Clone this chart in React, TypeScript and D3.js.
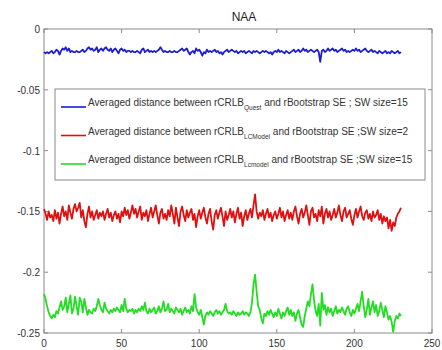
import React, { useEffect, useRef } from 'react';
import * as d3 from 'd3';

const title = 'NAA';
const xTicks = [0, 50, 100, 150, 200, 250];
const yTicks = [0, -0.05, -0.1, -0.15, -0.2, -0.25];
const yTickLabels = ['0', '-0.05', '-0.1', '-0.15', '-0.2', '-0.25'];

const blueValues = [
  -0.019, -0.020, -0.019, -0.020, -0.019, -0.018, -0.020, -0.019, -0.017, -0.018, -0.021, -0.018, -0.016, -0.017, -0.015, -0.018, -0.016, -0.019, -0.018, -0.019,
  -0.019, -0.018, -0.019, -0.019, -0.018, -0.017, -0.019, -0.018, -0.016, -0.015, -0.017, -0.016, -0.018, -0.017, -0.015, -0.019, -0.017, -0.016, -0.018, -0.016,
  -0.015, -0.017, -0.018, -0.016, -0.019, -0.017, -0.016, -0.018, -0.020, -0.017, -0.016, -0.018, -0.017, -0.019, -0.018, -0.018, -0.019, -0.018, -0.019, -0.019,
  -0.018, -0.019, -0.020, -0.017, -0.016, -0.019, -0.018, -0.017, -0.019, -0.018, -0.019, -0.018, -0.019, -0.018, -0.017, -0.015, -0.017, -0.019, -0.018, -0.019,
  -0.019, -0.018, -0.019, -0.019, -0.018, -0.019, -0.019, -0.018, -0.017, -0.016, -0.018, -0.017, -0.016, -0.019, -0.021, -0.019, -0.018, -0.020, -0.016, -0.018,
  -0.017, -0.019, -0.022, -0.019, -0.020, -0.017, -0.019, -0.018, -0.019, -0.018, -0.017, -0.019, -0.018, -0.020, -0.019, -0.021, -0.019, -0.018, -0.017, -0.019,
  -0.018, -0.017, -0.018, -0.019, -0.018, -0.020, -0.019, -0.018, -0.019, -0.018, -0.020, -0.019, -0.018, -0.019, -0.020, -0.018, -0.019, -0.018, -0.019, -0.020,
  -0.019, -0.018, -0.019, -0.018, -0.019, -0.020, -0.019, -0.021, -0.019, -0.018, -0.019, -0.017, -0.019, -0.018, -0.019, -0.020, -0.018, -0.019, -0.020, -0.019,
  -0.018, -0.017, -0.019, -0.018, -0.017, -0.019, -0.018, -0.016, -0.018, -0.017, -0.019, -0.018, -0.017, -0.018, -0.019, -0.018, -0.017, -0.019, -0.027, -0.018,
  -0.017, -0.019, -0.018, -0.016, -0.018, -0.017, -0.016, -0.018, -0.017, -0.019, -0.018, -0.017, -0.016, -0.018, -0.017, -0.019, -0.018, -0.019, -0.018, -0.017,
  -0.018, -0.016, -0.018, -0.017, -0.019, -0.018, -0.017, -0.016, -0.018, -0.019, -0.018, -0.017, -0.019, -0.018, -0.019, -0.020, -0.018, -0.019, -0.020, -0.019,
  -0.018, -0.020, -0.019, -0.020, -0.018, -0.019, -0.020, -0.019, -0.018, -0.020, -0.019,
];

const redValues = [
  -0.148, -0.152, -0.157, -0.150, -0.155, -0.153, -0.158, -0.149, -0.156, -0.151, -0.160, -0.152, -0.146, -0.154, -0.150, -0.157, -0.145, -0.151, -0.156, -0.148,
  -0.144, -0.150, -0.147, -0.143, -0.155, -0.149, -0.158, -0.163, -0.152, -0.146, -0.155, -0.150, -0.157, -0.153, -0.149, -0.156, -0.151, -0.154, -0.150, -0.157,
  -0.152, -0.148, -0.155, -0.151, -0.158, -0.153, -0.150, -0.156, -0.152, -0.159, -0.150, -0.154, -0.147, -0.153, -0.149, -0.156, -0.151, -0.145, -0.152, -0.148,
  -0.155, -0.150, -0.146, -0.157, -0.151, -0.154, -0.149, -0.158, -0.152, -0.147, -0.155, -0.150, -0.145, -0.153, -0.160, -0.151, -0.148, -0.156, -0.152, -0.157,
  -0.149, -0.154, -0.145, -0.152, -0.160, -0.147, -0.155, -0.162, -0.150, -0.146, -0.153, -0.158, -0.149, -0.155, -0.151, -0.148, -0.157, -0.152, -0.163, -0.154,
  -0.149, -0.156, -0.151, -0.147, -0.155, -0.160, -0.152, -0.148, -0.158, -0.165, -0.153, -0.149, -0.156, -0.151, -0.147, -0.154, -0.162, -0.150, -0.157, -0.153,
  -0.148, -0.155, -0.150, -0.159, -0.152, -0.147, -0.156, -0.151, -0.162, -0.154, -0.149, -0.157, -0.152, -0.148, -0.155, -0.145, -0.136, -0.150, -0.156, -0.151,
  -0.154, -0.149, -0.157, -0.152, -0.148, -0.155, -0.151, -0.158, -0.153, -0.150, -0.156, -0.152, -0.147, -0.155, -0.150, -0.158, -0.153, -0.149, -0.156, -0.151,
  -0.157, -0.150, -0.146, -0.154, -0.160, -0.152, -0.148, -0.155, -0.151, -0.145, -0.153, -0.161, -0.150, -0.147, -0.155, -0.152, -0.158, -0.149, -0.154, -0.146,
  -0.160, -0.152, -0.148, -0.155, -0.150, -0.157, -0.153, -0.148, -0.155, -0.151, -0.145, -0.153, -0.158, -0.150, -0.147, -0.155, -0.152, -0.149, -0.156, -0.161,
  -0.153, -0.148, -0.155, -0.150, -0.146, -0.154, -0.157, -0.151, -0.149, -0.156, -0.152, -0.158, -0.150, -0.155, -0.153, -0.149, -0.157, -0.152, -0.160, -0.154,
  -0.158, -0.155, -0.164, -0.157, -0.166, -0.159, -0.162, -0.155, -0.152, -0.150, -0.147,
];

const greenValues = [
  -0.218, -0.222, -0.228, -0.233, -0.236, -0.238, -0.235, -0.237, -0.232, -0.234, -0.229, -0.224, -0.231, -0.228, -0.221, -0.233, -0.226, -0.219, -0.234, -0.230,
  -0.220, -0.228, -0.235, -0.221, -0.224, -0.233, -0.222, -0.229, -0.235, -0.231, -0.233, -0.234, -0.230, -0.232, -0.228, -0.222, -0.227, -0.231, -0.233, -0.225,
  -0.230, -0.232, -0.234, -0.231, -0.233, -0.230, -0.232, -0.229, -0.231, -0.233, -0.227, -0.232, -0.222, -0.230, -0.233, -0.231, -0.232, -0.230, -0.234, -0.231,
  -0.233, -0.230, -0.232, -0.228, -0.231, -0.225, -0.232, -0.234, -0.230, -0.233, -0.231, -0.229, -0.234, -0.232, -0.228, -0.233, -0.230, -0.224, -0.232, -0.231,
  -0.226, -0.233, -0.230, -0.232, -0.234, -0.229, -0.231, -0.233, -0.230, -0.235, -0.232, -0.229, -0.233, -0.231, -0.234, -0.228, -0.232, -0.218, -0.229, -0.233,
  -0.235, -0.231, -0.237, -0.243, -0.236, -0.233, -0.235, -0.232, -0.234, -0.236, -0.233, -0.231, -0.234, -0.232, -0.235, -0.233, -0.231, -0.226, -0.232, -0.234,
  -0.233, -0.235, -0.232, -0.234, -0.236, -0.233, -0.235, -0.234, -0.232, -0.235, -0.233, -0.234, -0.236, -0.233, -0.225, -0.210, -0.202, -0.216, -0.228, -0.231,
  -0.238, -0.242, -0.234, -0.236, -0.232, -0.235, -0.231, -0.234, -0.237, -0.233, -0.236, -0.230, -0.234, -0.238, -0.233, -0.236, -0.232, -0.229, -0.235, -0.231,
  -0.236, -0.233, -0.240, -0.234, -0.231, -0.237, -0.243, -0.245, -0.236, -0.230, -0.224, -0.228, -0.218, -0.210, -0.223, -0.232, -0.236, -0.226, -0.244, -0.217,
  -0.231, -0.227, -0.235, -0.229, -0.233, -0.230, -0.236, -0.232, -0.228, -0.234, -0.231, -0.233, -0.229, -0.232, -0.235, -0.230, -0.228, -0.233, -0.236, -0.231,
  -0.234, -0.230, -0.226, -0.232, -0.224, -0.216, -0.228, -0.237, -0.231, -0.222, -0.235, -0.229, -0.224, -0.233, -0.227, -0.236, -0.232, -0.225, -0.231, -0.237,
  -0.228, -0.233, -0.239, -0.236, -0.241, -0.249, -0.240, -0.236, -0.238, -0.234, -0.236,
];

const seriesColors = ['#1c1cd0', '#e01010', '#22dd22'];
const legendSubs = ['Quest', 'LCModel', 'Lcmodel'];
const legendTails = [' and rBootstrap SE ; SW size=15', ' and rBootstrap SE ;SW size=2', ' and rBootstrap SE ;SW size=15'];

export default function App() {
  const svgRef = useRef<SVGSVGElement | null>(null);

  useEffect(() => {
    const width = 442;
    const height = 350;
    const margin = { top: 29, right: 10, bottom: 17, left: 44 };
    const innerW = width - margin.left - margin.right;
    const innerH = height - margin.top - margin.bottom;
    const font = 'Liberation Sans, Arial, Helvetica, sans-serif';

    const root = d3.select(svgRef.current);
    root.selectAll('*').remove();

    root.append('rect').attr('width', width).attr('height', height).attr('fill', '#fff');

    const svg = root.append('g').attr('transform', `translate(${margin.left},${margin.top})`);

    const x = d3.scaleLinear().domain([0, 250]).range([0, innerW]);
    const y = d3.scaleLinear().domain([-0.25, 0]).range([innerH, 0]);

    // frame
    svg.append('rect')
      .attr('width', innerW)
      .attr('height', innerH)
      .attr('fill', 'none')
      .attr('stroke', '#8a8a8a')
      .attr('stroke-width', 1);

    // ticks inside on all sides, matlab style
    const tl = 4;
    xTicks.forEach(t => {
      svg.append('line').attr('x1', x(t)).attr('x2', x(t)).attr('y1', innerH).attr('y2', innerH - tl).attr('stroke', '#8a8a8a');
      svg.append('line').attr('x1', x(t)).attr('x2', x(t)).attr('y1', 0).attr('y2', tl).attr('stroke', '#8a8a8a');
      svg.append('text')
        .attr('x', x(t))
        .attr('y', innerH + 14)
        .attr('text-anchor', 'middle')
        .style('font-family', font)
        .style('font-size', '10px')
        .style('fill', '#333')
        .text(t);
    });
    yTicks.forEach((t, i) => {
      svg.append('line').attr('x1', 0).attr('x2', tl).attr('y1', y(t)).attr('y2', y(t)).attr('stroke', '#8a8a8a');
      svg.append('line').attr('x1', innerW).attr('x2', innerW - tl).attr('y1', y(t)).attr('y2', y(t)).attr('stroke', '#8a8a8a');
      svg.append('text')
        .attr('x', -4)
        .attr('y', y(t) + 4)
        .attr('text-anchor', 'end')
        .style('font-family', font)
        .style('font-size', '10px')
        .style('fill', '#333')
        .text(yTickLabels[i]);
    });

    const line = d3.line<number>()
      .x((d, i) => x(i))
      .y(d => y(d));

    [blueValues, redValues, greenValues].forEach((vals, k) => {
      svg.append('path')
        .datum(vals)
        .attr('d', line)
        .attr('fill', 'none')
        .attr('stroke', seriesColors[k])
        .attr('stroke-width', 1.8)
        .attr('stroke-linejoin', 'round');
    });

    svg.append('text')
      .attr('x', innerW / 2 + 6)
      .attr('y', -8)
      .attr('text-anchor', 'middle')
      .style('font-family', font)
      .style('font-size', '12px')
      .style('fill', '#222')
      .text(title);

    // legend
    const lg = svg.append('g').attr('transform', `translate(${55 - margin.left},${89 - margin.top})`);
    lg.append('rect')
      .attr('width', 370)
      .attr('height', 91)
      .attr('fill', '#fff')
      .attr('stroke', '#8a8a8a');

    legendSubs.forEach((sub, k) => {
      const ly = 18 + k * 28.5;
      lg.append('line')
        .attr('x1', 6).attr('x2', 31)
        .attr('y1', ly).attr('y2', ly)
        .attr('stroke', seriesColors[k])
        .attr('stroke-width', 1.6);
      const txt = lg.append('text')
        .attr('x', 33)
        .attr('y', ly - 1)
        .style('font-family', font)
        .style('font-size', '10px')
        .style('fill', '#333');
      txt.append('tspan').text('Averaged distance between rCRLB');
      txt.append('tspan').attr('dy', 4).style('font-size', '6.5px').text(sub);
      txt.append('tspan').attr('dy', -4).text(legendTails[k]);
    });
  }, []);

  return (
    <svg
      ref={svgRef}
      width={442}
      height={350}
      style={{ position: 'absolute', left: 0, top: 0 }}
    />
  );
}
